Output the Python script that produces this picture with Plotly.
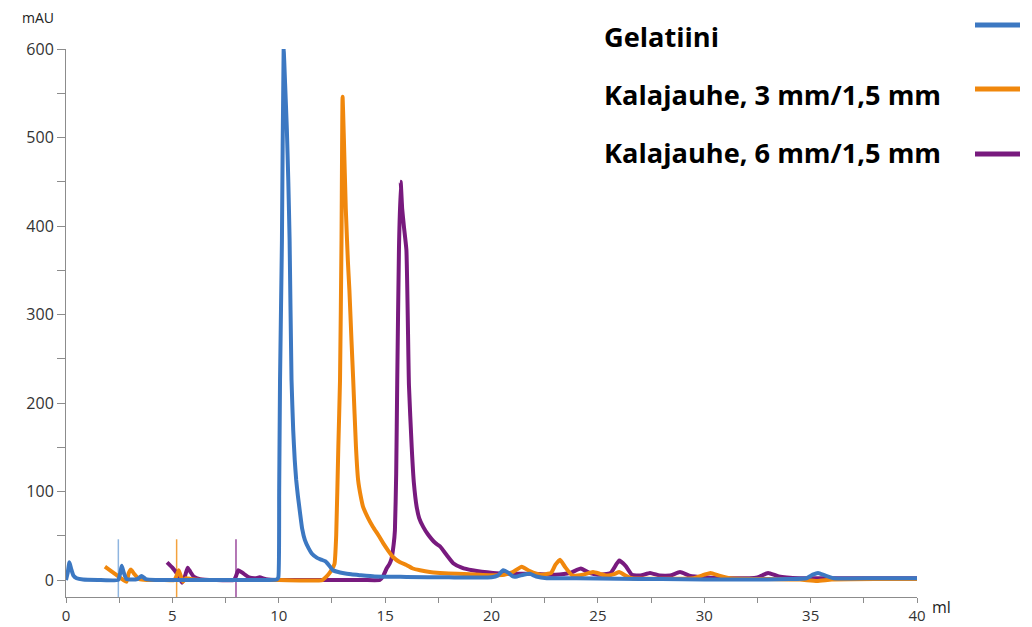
import plotly.graph_objects as go

# ---------------- data (ml, mAU) ----------------
gel_x = [0, 0.08, 0.16, 0.25, 0.35, 0.5, 0.8, 1.5, 2.45, 2.55, 2.62, 2.72, 2.85, 3.1, 3.35, 3.55, 3.75, 4.2,
         6, 8, 9.5, 9.9, 9.98, 10.02, 10.06, 10.15, 10.23, 10.3, 10.38, 10.45, 10.51, 10.6, 10.68, 10.75,
         10.82, 10.9, 11.0, 11.1, 11.23, 11.4, 11.55, 11.8, 12.0, 12.2, 12.35, 12.55, 12.8, 13.0, 13.4,
         13.8, 14.5, 16, 18, 20, 20.3, 20.55, 20.8, 21.0, 21.2, 21.5, 21.8, 22.1, 22.6, 24, 26, 28, 30,
         32, 34, 34.8, 35.1, 35.35, 35.7, 36.1, 38, 40]
gel_y = [0, 8, 20, 12, 5, 2, 0.5, 0, 0, 8, 16, 8, 1, 0.5, 1, 4.5, 1, 0,
         0, 0, 0, 0.5, 3, 100, 226, 384, 600, 560, 510, 450, 384, 226, 169, 136,
         113, 95, 76, 58, 45, 36, 30, 25, 23, 21, 17, 11, 9, 8, 6.5,
         5.5, 4, 3.5, 3, 3, 5, 11, 8, 4, 4, 6, 7, 4, 2, 2, 1.5, 1, 0.5,
         0.5, 1, 2, 6, 8, 5, 2, 2, 2]

k3_x = [1.83, 2.3, 2.7, 2.85, 2.95, 3.05, 3.2, 3.45, 3.8, 4.5, 5.1, 5.2, 5.3, 5.4, 5.5, 5.65, 5.9, 6.5,
        8, 10, 12.05, 12.25, 12.45, 12.62, 12.7, 12.8, 12.88, 12.95, 13.0, 13.06, 13.15, 13.25, 13.32,
        13.42, 13.5, 13.63, 13.73, 13.85, 13.96, 14.2, 14.43, 14.7, 14.9, 15.15, 15.37, 15.7, 16.0,
        16.3, 16.64, 17.1, 17.58, 18.4, 19.9, 20.6, 21.0, 21.42, 21.8, 22.3, 22.8, 23.0, 23.22, 23.45,
        23.8, 24.3, 24.77, 25.1, 25.4, 25.8, 26.0, 26.3, 26.6, 27.5, 29.5, 30.0, 30.3, 30.7, 31.2, 33,
        34.5, 35.3, 36, 38, 40]
k3_y = [15, 7, 0, -2, 8, 12, 7, 1, 0, 0, 0, 5, 11, 4, -2, 2, 1, 0,
        0, 0, 0, 4, 10, 18, 50, 150, 226, 384, 546, 500, 420, 360, 328,
        270, 226, 150, 113, 95, 83, 70, 60, 50, 42, 33, 26, 20, 17,
        13, 11, 9, 8, 7, 5.5, 6, 9, 15, 10, 6, 8, 17, 23, 15,
        5, 6, 9, 7, 5, 7, 9, 5, 2, 1.5, 2, 6, 8, 5, 2, 1,
        0.5, -1, 0.5, 1, 1]

k6_x = [4.75, 5.0, 5.25, 5.45, 5.6, 5.72, 5.85, 6.0, 6.3, 7, 7.9, 8.0, 8.1, 8.3, 8.6, 8.9, 9.1, 9.4,
        10, 12, 14, 14.75, 14.9, 15.07, 15.2, 15.3, 15.4, 15.46, 15.52, 15.57, 15.65, 15.73, 15.8,
        15.88, 16.0, 16.12, 16.25, 16.35, 16.48, 16.6, 16.79, 17.0, 17.35, 17.58, 17.9, 18.2, 18.6,
        19.1, 20.07, 21, 22, 23, 23.7, 24.2, 24.6, 25, 25.6, 26.0, 26.3, 26.6, 27.0, 27.45, 27.9,
        28.4, 28.86, 29.3, 30, 31, 32.5, 33.0, 33.5, 34.5, 36, 40]
k6_y = [20, 14, 6, -3, 5, 14, 9, 4, 1, 0, 0, 5, 11, 8, 3, 2, 3, 1,
        0, 0, 0, 0, 4, 13, 18, 24, 40, 56, 120, 226, 373, 450, 420,
        400, 373, 220, 150, 110, 83, 70, 60, 52, 42, 38, 28, 19, 14,
        11, 8, 7, 7, 6, 8, 13, 8, 6, 8, 22, 16, 6, 5, 8, 5,
        5, 9, 5, 3, 2, 3, 8, 4, 2, 2, 2]

# injection markers (ml) and their vertical extent (mAU)
inject_x = [2.46, 5.2, 7.99]
inject_span = [-19.2, 46]

names = ["Gelatiini", "Kalajauhe, 3 mm/1,5 mm", "Kalajauhe, 6 mm/1,5 mm"]
colors = ["#3c78c2", "#f0870c", "#781a7e"]
marker_colors = ["#8fb5e0", "#f3a13c", "#9b4a9d"]

series = [(gel_x, gel_y), (k3_x, k3_y), (k6_x, k6_y)]

fig = go.Figure()

# injection marks
for xi, mc in zip(inject_x, marker_colors):
    fig.add_trace(go.Scatter(x=[xi, xi], y=inject_span, mode="lines",
                             line=dict(color=mc, width=1.5), showlegend=False, hoverinfo="skip"))

# draw purple, orange, blue (blue on top)
for idx in [2, 1, 0]:
    xs, ys = series[idx]
    fig.add_trace(go.Scatter(x=xs, y=ys, mode="lines", name=names[idx],
                             line=dict(color=colors[idx], width=4, shape="spline", smoothing=0.4),
                             showlegend=False))

axis_col = "#8c8c8c"
tick_font = dict(family="Open Sans", size=16, color="#333333")
xtick_font = dict(family="Open Sans", size=15, color="#333333")

# page body has an 8px margin, so the figure is drawn at (8, 8)
fig.update_layout(
    width=1024, height=619,
    margin=dict(l=58, r=115, t=41, b=30),
    plot_bgcolor="white", paper_bgcolor="white",
    xaxis=dict(range=[0, 40], showline=True, linecolor=axis_col, linewidth=1, automargin=False,
               ticks="outside", ticklen=5, tickcolor=axis_col, tick0=0, dtick=5,
               minor=dict(dtick=2.5, ticks="outside", ticklen=5, tickcolor=axis_col),
               showgrid=False, zeroline=False, tickfont=xtick_font),
    yaxis=dict(range=[-19.2, 600], showline=True, linecolor=axis_col, linewidth=1, automargin=False,
               ticks="outside", ticklen=8, tickcolor=axis_col, tick0=0, dtick=100,
               minor=dict(dtick=50, ticks="outside", ticklen=8, tickcolor=axis_col),
               showgrid=False, zeroline=False, tickfont=tick_font),
)

# plot area in page pixels: x 66..917, y 49..597
def px(xp):
    return (xp - 66) / 851.0

def py(yp):
    return (597 - yp) / 548.0

# axis titles
fig.add_annotation(text="mAU", xref="paper", yref="paper", x=px(38), y=py(18),
                   xanchor="center", yanchor="middle",
                   showarrow=False, font=dict(family="Open Sans", size=14, color="#222222"))
fig.add_annotation(text="ml", xref="paper", yref="paper", x=px(941), y=py(607),
                   xanchor="center", yanchor="middle",
                   showarrow=False, font=dict(family="Open Sans", size=16, color="#222222"))

# legend (text left, line sample right)
leg_text_y = [37, 94, 152]
leg_line_y = [25, 89, 154]
for i in range(3):
    fig.add_annotation(text="<b>" + names[i] + "</b>", xref="paper", yref="paper",
                       x=px(602), y=py(leg_text_y[i]), xanchor="left", yanchor="middle",
                       showarrow=False, font=dict(family="Open Sans", size=27.2, color="black"))
    fig.add_shape(type="line", xref="paper", yref="paper", x0=px(975), x1=px(1020),
                  y0=py(leg_line_y[i]), y1=py(leg_line_y[i]), line=dict(color=colors[i], width=5))

fig.write_html("out.html")
